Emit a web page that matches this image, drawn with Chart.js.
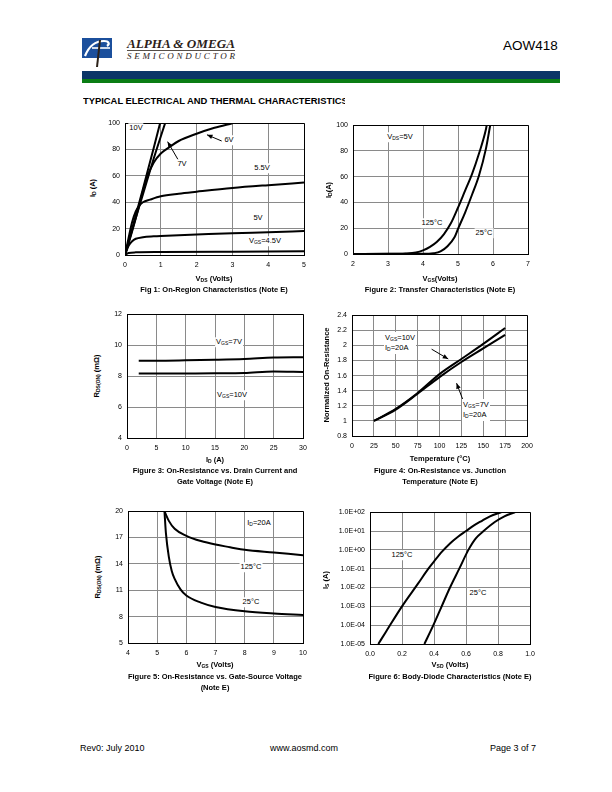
<!DOCTYPE html>
<html>
<head>
<meta charset="utf-8">
<script src="https://cdn.jsdelivr.net/npm/chart.js@4.4.1/dist/chart.umd.min.js"></script>
<style>
body { margin: 0; width: 612px; height: 792px; position: relative; background: #fff; overflow: hidden;
       font-family: "Liberation Sans", Arial, sans-serif; color: #000; }
.box { position: absolute; }
.t { position: absolute; white-space: nowrap; transform: translate(-50%, -50%); line-height: 1; }
.lbl { font-size: 7.5px; background: #fff; padding: 1px 1px; }
.ax { font-size: 7.5px; font-weight: bold; }
.cap { font-size: 7.5px; font-weight: bold; }
.rot { transform: translate(-50%, -50%) rotate(-90deg); }
.left { transform: none; line-height: 10px; }
sub { font-size: 5px; vertical-align: -1px; line-height: 0; }
</style>
</head>
<body>

<!-- header -->
<svg class="box" style="left:80px;top:34px" width="160" height="36">
  <rect x="2" y="4" width="30" height="20" fill="#1b4f9c"/>
  <path d="M5 22 C 9 12, 15 7, 24 7 C 29 7, 30 10, 27 12" stroke="#fff" stroke-width="2.2" fill="none"/>
  <path d="M12 14 L 30 14" stroke="#fff" stroke-width="1.6"/>
  <path d="M20 6 L 17 33" stroke="#2b2118" stroke-width="2"/>
  <text x="47" y="14" font-family="Liberation Serif" font-weight="bold" font-style="italic" font-size="11.5" fill="#2b2118" textLength="108" lengthAdjust="spacingAndGlyphs">ALPHA &amp; OMEGA</text>
  <line x1="47" y1="16.5" x2="155" y2="16.5" stroke="#2b2118" stroke-width="0.8"/>
  <text x="47" y="25" font-family="Liberation Serif" font-style="italic" font-size="9" fill="#2b2118" textLength="108" lengthAdjust="spacing">SEMICONDUCTOR</text>
</svg>
<div class="box" style="left:503px;top:38px;font-size:13.5px">AOW418</div>
<div class="box" style="left:82px;top:71px;width:478px;height:8px;background:#0b3567"></div>
<div class="box" style="left:82px;top:79px;width:478px;height:4px;background:#0a7d14"></div>
<div class="box" style="left:83px;top:95px;width:262px;overflow:hidden;white-space:nowrap;font-size:9.4px;font-weight:bold">TYPICAL ELECTRICAL AND THERMAL CHARACTERISTICS</div>

<script>
// ---- Fig 1: On-region characteristics, ID vs VDS, one curve per VGS
const fig1Vgs10 = [[0,0],[0.2,20],[0.5,50],[0.8,81],[0.98,100]];
const fig1Vgs7 = [[0,0],[0.2,19],[0.5,46],[0.8,73],[1.12,100]];
const fig1Vgs6 = [[0,0],[0.2,18],[0.4,38],[0.6,58],[0.8,70],[1,77],[1.25,82],[1.5,86.5],[2,92],[2.5,96.5],[3,100]];
const fig1Vgs55 = [[0,0],[0.1,13],[0.2,25],[0.3,33],[0.4,37.5],[0.5,40],[0.7,42],[1,44.5],[1.5,46.5],[2,48],[3,50.8],[4,53],[5,55]];
const fig1Vgs5 = [[0,0],[0.1,7],[0.2,10.5],[0.3,12.3],[0.5,13.5],[0.8,14.2],[1,14.5],[2,15.5],[3,16.5],[4,17.3],[5,18.2]];
const fig1Vgs45 = [[0,0],[0.1,1.5],[0.3,2],[1,2.2],[3,2.5],[5,2.8]];
const fig1Arrows = [[2.7,86.5,2.29,91.2],[1.5,71.5,1.19,86]];

// ---- Fig 2: transfer characteristics, ID vs VGS
const fig2T125 = [[2,0],[3,0.1],[3.5,0.4],[3.8,1.2],[4,2.8],[4.2,5.5],[4.4,9.5],[4.6,15.5],[4.8,24],[5,36],[5.2,49],[5.4,62],[5.6,78],[5.8,97],[5.82,100]];
const fig2T25 = [[2,0],[4,0.1],[4.3,0.6],[4.5,2],[4.7,6],[4.9,13],[5,19.5],[5.2,32],[5.4,46],[5.6,61],[5.8,82],[5.92,100]];

// ---- Fig 3: RDS(ON) vs ID
const fig3Id = [2,5,10,15,20,25,30];
const fig3Vgs7 = [9.0,9.0,9.02,9.05,9.1,9.2,9.22];
const fig3Vgs10 = [8.16,8.16,8.17,8.18,8.2,8.3,8.27];

// ---- Fig 4: normalized on-resistance vs temperature
const fig4Temp = [25,50,75,100,125,150,175];
const fig4Vgs10 = [1,1.16,1.37,1.62,1.82,2.02,2.23];
const fig4Vgs7 = [1,1.15,1.36,1.58,1.78,1.96,2.14];
const fig4Arrows = [[91,1.95,110,1.82],[127,1.27,119.5,1.5]];

// ---- Fig 5: RDS(ON) vs VGS
const fig5T125 = [[5.25,20],[5.4,18.9],[5.6,18],[6,17.2],[6.5,16.6],[7,16.2],[7.5,15.9],[8,15.6],[9,15.3],[10,15.0]];
const fig5T25 = [[5.25,20],[5.3,17.5],[5.4,14.8],[5.5,13.2],[5.6,12.3],[5.8,11.1],[6,10.4],[6.5,9.6],[7,9.1],[8,8.6],[9,8.35],[10,8.2]];

// ---- Fig 6: body diode, IS vs VSD (log)
const fig6T125 = [[0.052,1e-5],[0.1,4.5e-5],[0.2,1e-3],[0.3,1.6e-2],[0.365,0.1],[0.4,0.24],[0.45,0.8],[0.5,2.2],[0.55,5],[0.6,10],[0.65,20],[0.7,35],[0.75,60],[0.82,100]];
const fig6T25 = [[0.34,1e-5],[0.396,1e-4],[0.448,1e-3],[0.5,1e-2],[0.558,0.1],[0.615,1],[0.66,4],[0.71,10],[0.78,30],[0.84,60],[0.906,100]];
const fig6Ticks = [1e-5,1e-4,1e-3,1e-2,1e-1,1,10,100];

Chart.defaults.font.family = '"Liberation Sans", Arial, sans-serif';
Chart.defaults.font.size = 7;
Chart.defaults.color = '#000';

const arrowPlugin = {
  id: 'arrows',
  afterDatasetsDraw(chart, args, opts) {
    const { ctx, scales: { x, y } } = chart;
    (opts.list || []).forEach(([x1, y1, x2, y2]) => {
      const ax = x.getPixelForValue(x1), ay = y.getPixelForValue(y1);
      const bx = x.getPixelForValue(x2), by = y.getPixelForValue(y2);
      const a = Math.atan2(by - ay, bx - ax);
      ctx.save();
      ctx.strokeStyle = '#000';
      ctx.fillStyle = '#000';
      ctx.lineWidth = 1;
      ctx.beginPath(); ctx.moveTo(ax, ay); ctx.lineTo(bx, by); ctx.stroke();
      ctx.beginPath();
      ctx.moveTo(bx, by);
      ctx.lineTo(bx - 6 * Math.cos(a - 0.4), by - 6 * Math.sin(a - 0.4));
      ctx.lineTo(bx - 6 * Math.cos(a + 0.4), by - 6 * Math.sin(a + 0.4));
      ctx.closePath(); ctx.fill();
      ctx.restore();
    });
  }
};

const pts = arr => arr.map(([x, y]) => ({ x, y }));
const zip = (xs, ys) => xs.map((x, i) => ({ x, y: ys[i] }));
const line = data => ({ data, borderColor: '#000', borderWidth: 2, pointRadius: 0, fill: false, cubicInterpolationMode: 'monotone' });
const frame = ctx => (ctx.index === 0 || ctx.index === ctx.scale.ticks.length - 1) ? '#000' : '#8a8a8a';
const num = v => String(Math.round(v * 10) / 10);

// area = [left, top, right, bottom] of the plot frame on the page
function plot(area, yW, datasets, xs, ys, arrows) {
  const padT = 8, padR = 14, xH = 20;
  const div = document.createElement('div');
  div.className = 'box';
  div.style.left = (area[0] - yW) + 'px';
  div.style.top = (area[1] - padT) + 'px';
  div.style.width = (area[2] - area[0] + yW + padR) + 'px';
  div.style.height = (area[3] - area[1] + padT + xH) + 'px';
  const c = document.createElement('canvas');
  div.appendChild(c);
  document.body.appendChild(div);
  const axis = (o, fit) => Object.assign({
    grid: { color: frame, lineWidth: 1, drawTicks: false },
    border: { color: '#000', width: 1 },
    afterFit: fit
  }, o, { ticks: Object.assign({ padding: 5 }, o.ticks) });
  new Chart(c, {
    type: 'line',
    data: { datasets },
    plugins: [arrowPlugin],
    options: {
      responsive: true, maintainAspectRatio: false, animation: false,
      layout: { padding: { top: padT, right: padR, left: 0, bottom: 0 } },
      plugins: { legend: { display: false }, tooltip: { enabled: false }, arrows: { list: arrows || [] } },
      scales: {
        x: axis(Object.assign({ type: 'linear' }, xs, { ticks: Object.assign({ padding: 6 }, xs.ticks) }), s => { s.height = xH; }),
        y: axis(Object.assign({ type: 'linear' }, ys), s => { s.width = yW; })
      }
    }
  });
}

plot([125, 122, 304, 255], 24,
  [fig1Vgs10, fig1Vgs7, fig1Vgs6, fig1Vgs55, fig1Vgs5, fig1Vgs45].map(a => line(pts(a))),
  { min: 0, max: 5, ticks: { stepSize: 1 } },
  { min: 0, max: 100, ticks: { stepSize: 20 } }, fig1Arrows);

plot([353, 124, 528, 254], 24,
  [fig2T125, fig2T25].map(a => line(pts(a))),
  { min: 2, max: 7, ticks: { stepSize: 1 } },
  { min: 0, max: 100, ticks: { stepSize: 20 } });

plot([127, 313, 303, 438], 24,
  [line(zip(fig3Id, fig3Vgs7)), line(zip(fig3Id, fig3Vgs10))],
  { min: 0, max: 30, ticks: { stepSize: 5 } },
  { min: 4, max: 12, ticks: { stepSize: 2 } });

plot([352, 314, 527, 436], 24,
  [line(zip(fig4Temp, fig4Vgs10)), line(zip(fig4Temp, fig4Vgs7))],
  { min: 0, max: 200, ticks: { stepSize: 25 } },
  { min: 0.8, max: 2.4, ticks: { stepSize: 0.2, callback: num } }, fig4Arrows);

plot([128, 510, 303, 643], 24,
  [fig5T125, fig5T25].map(a => line(pts(a))),
  { min: 4, max: 10, ticks: { stepSize: 1 } },
  { min: 5, max: 20, ticks: { stepSize: 3 } });

const sci = v => { const e = Math.round(Math.log10(v)); return '1.0E' + (e < 0 ? '-' : '+') + String(Math.abs(e)).padStart(2, '0'); };
plot([370, 511, 530, 644], 38,
  [fig6T125, fig6T25].map(a => line(pts(a))),
  { min: 0, max: 1, ticks: { stepSize: 0.2, callback: v => v.toFixed(1) } },
  { type: 'logarithmic', min: 1e-5, max: 100, afterBuildTicks: s => { s.ticks = fig6Ticks.map(value => ({ value })); }, ticks: { callback: sci } });
</script>

<!-- Fig 1 texts -->
<div class="t lbl" style="left:136px;top:128px">10V</div>
<div class="t lbl" style="left:182px;top:164px">7V</div>
<div class="t lbl" style="left:229px;top:140px">6V</div>
<div class="t lbl" style="left:262px;top:168px">5.5V</div>
<div class="t lbl" style="left:258px;top:218px">5V</div>
<div class="t lbl" style="left:265px;top:241px">V<sub>GS</sub>=4.5V</div>
<div class="t ax" style="left:214px;top:279px">V<sub>DS</sub> (Volts)</div>
<div class="t ax rot" style="left:93px;top:188px">I<sub>D</sub> (A)</div>
<div class="t cap" style="left:214px;top:290px">Fig 1: On-Region Characteristics (Note E)</div>

<!-- Fig 2 texts -->
<div class="t lbl" style="left:400px;top:137px">V<sub>DS</sub>=5V</div>
<div class="t lbl" style="left:432px;top:223px">125°C</div>
<div class="t lbl" style="left:484px;top:233px">25°C</div>
<div class="t ax" style="left:440px;top:279px">V<sub>GS</sub>(Volts)</div>
<div class="t ax rot" style="left:329px;top:190px">I<sub>D</sub>(A)</div>
<div class="t cap" style="left:440px;top:290px">Figure 2: Transfer Characteristics (Note E)</div>

<!-- Fig 3 texts -->
<div class="t lbl" style="left:229px;top:342px">V<sub>GS</sub>=7V</div>
<div class="t lbl" style="left:232px;top:395px">V<sub>GS</sub>=10V</div>
<div class="t ax" style="left:215px;top:460px">I<sub>D</sub> (A)</div>
<div class="t ax rot" style="left:97px;top:376px">R<sub>DS(ON)</sub> (mΩ)</div>
<div class="t cap" style="left:215px;top:471px">Figure 3: On-Resistance vs. Drain Current and</div>
<div class="t cap" style="left:215px;top:482px">Gate Voltage (Note E)</div>

<!-- Fig 4 texts -->
<div class="t lbl left" style="left:384px;top:332px">V<sub>GS</sub>=10V<br>I<sub>D</sub>=20A</div>
<div class="t lbl left" style="left:462px;top:399px">V<sub>GS</sub>=7V<br>I<sub>D</sub>=20A</div>
<div class="t ax" style="left:440px;top:459px">Temperature (°C)</div>
<div class="t ax rot" style="left:327px;top:375px">Normalized On-Resistance</div>
<div class="t cap" style="left:440px;top:471px">Figure 4: On-Resistance vs. Junction</div>
<div class="t cap" style="left:440px;top:482px">Temperature (Note E)</div>

<!-- Fig 5 texts -->
<div class="t lbl" style="left:259px;top:523px">I<sub>D</sub>=20A</div>
<div class="t lbl" style="left:251px;top:567px">125°C</div>
<div class="t lbl" style="left:251px;top:602px">25°C</div>
<div class="t ax" style="left:215px;top:665px">V<sub>GS</sub> (Volts)</div>
<div class="t ax rot" style="left:98px;top:577px">R<sub>DS(ON)</sub> (mΩ)</div>
<div class="t cap" style="left:215px;top:677px">Figure 5: On-Resistance vs. Gate-Source Voltage</div>
<div class="t cap" style="left:215px;top:688px">(Note E)</div>

<!-- Fig 6 texts -->
<div class="t lbl" style="left:402px;top:555px">125°C</div>
<div class="t lbl" style="left:478px;top:593px">25°C</div>
<div class="t ax" style="left:450px;top:665px">V<sub>SD</sub> (Volts)</div>
<div class="t ax rot" style="left:326px;top:580px">I<sub>S</sub> (A)</div>
<div class="t cap" style="left:450px;top:677px">Figure 6: Body-Diode Characteristics (Note E)</div>

<!-- footer -->
<div class="box" style="left:80px;top:743px;font-size:9px">Rev0: July 2010</div>
<div class="box" style="left:270px;top:743px;font-size:9px">www.aosmd.com</div>
<div class="box" style="left:490px;top:743px;font-size:9px">Page 3 of 7</div>
</body>
</html>
